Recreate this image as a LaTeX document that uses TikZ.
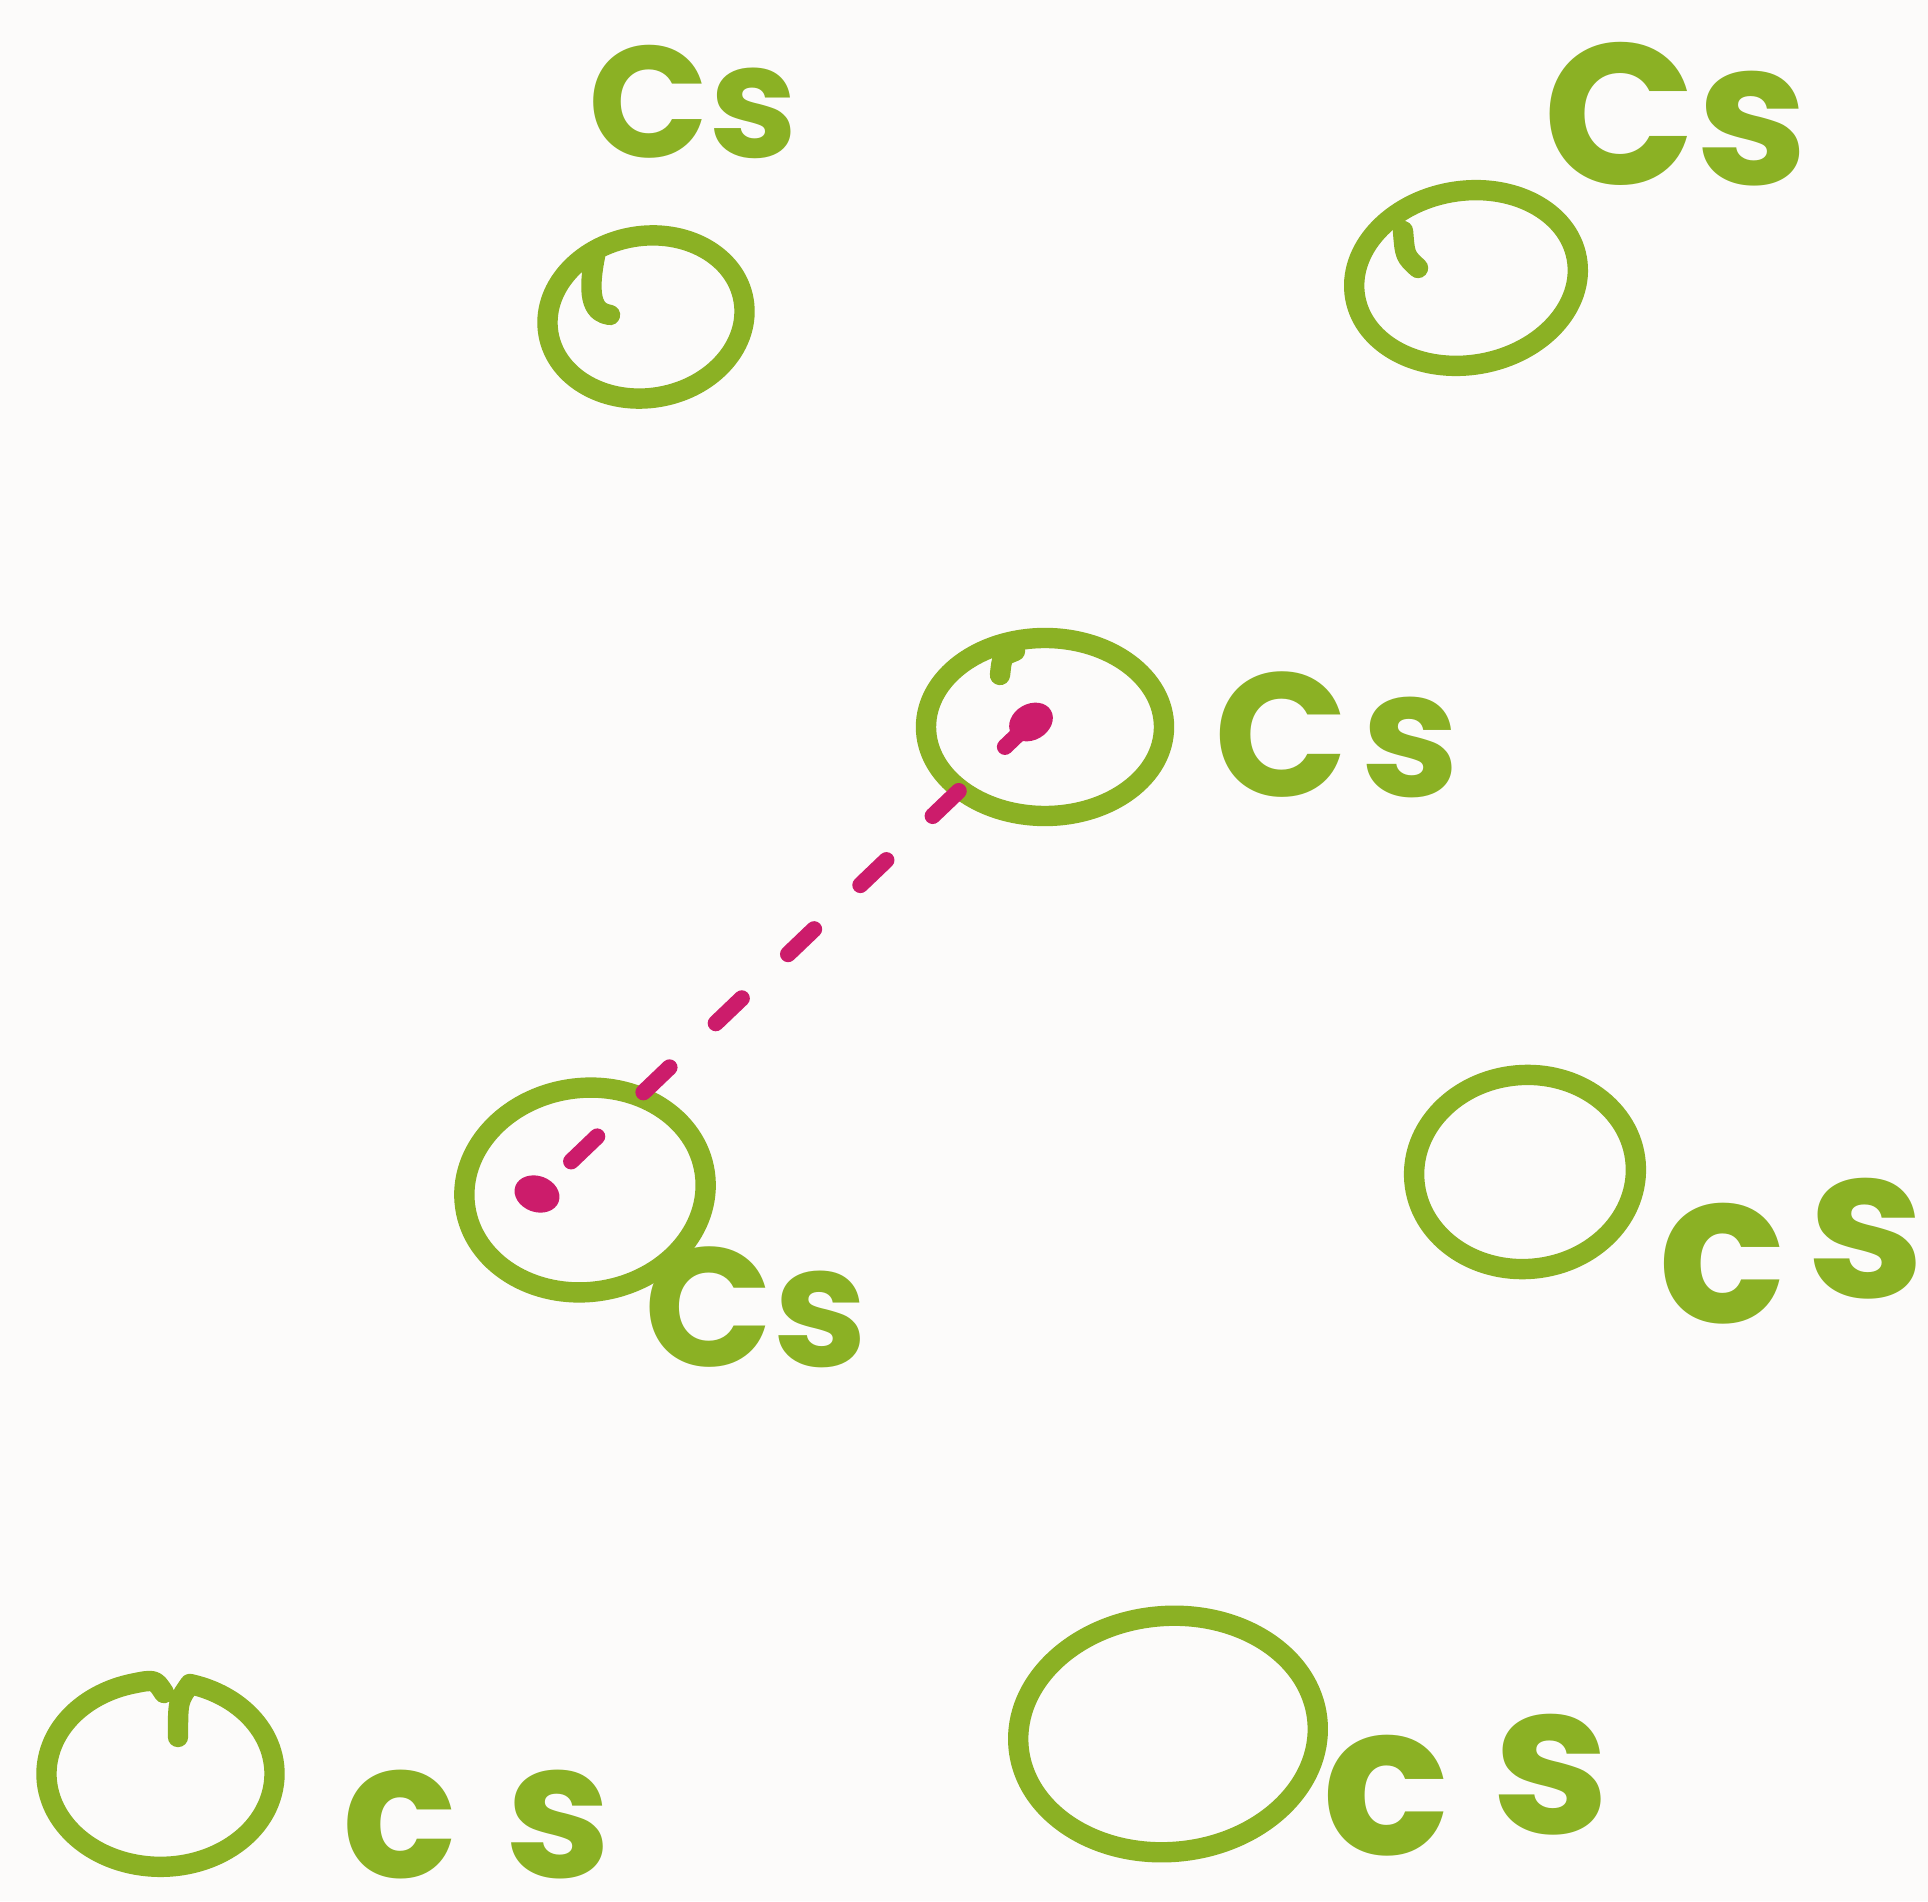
\documentclass[tikz,border=0pt]{standalone}
\usepackage{fontspec}
\setmainfont{Poppins}
\usetikzlibrary{shapes.geometric}
\definecolor{bgc}{HTML}{FCFBFA}
\definecolor{grn}{HTML}{8BB124}
\definecolor{mag}{HTML}{CC1C6B}
\tikzset{
  ring/.style={draw=grn, line width=5.8pt, ellipse, inner sep=0pt},
  gline/.style={draw=grn, line width=5.8pt, line cap=round, line join=round},
  lab/.style={text=grn, inner sep=0pt, font=\bfseries},
  dot/.style={fill=mag, ellipse, inner sep=0pt, minimum width=0.46cm, minimum height=0.36cm},
  link/.style={draw=mag, line width=4.6pt, line cap=round, dash pattern=on 0.36cm off 0.64cm}
}
\begin{document}
\begin{tikzpicture}
\fill[bgc] (0,0) rectangle (19.28,19.01);
\useasboundingbox (0,0) rectangle (19.28,19.01);
% rings
\node[ring, minimum width=1.98cm, minimum height=1.62cm, rotate=10] (r1) at (6.46,15.84) {};
\node[ring, minimum width=2.25cm, minimum height=1.74cm, rotate=10] (r2) at (14.66,16.23) {};
\node[ring, minimum width=2.38cm, minimum height=1.78cm] (r3) at (10.45,11.74) {};
\node[ring, minimum width=2.42cm, minimum height=2.04cm, rotate=8] (r4) at (5.85,7.11) {};
\node[ring, minimum width=2.22cm, minimum height=1.94cm, rotate=5] (r5) at (15.25,7.29) {};
\node[ring, minimum width=3.0cm, minimum height=2.36cm, rotate=5] (r7) at (11.68,1.67) {};
% open ring (bottom left)
\draw[gline] (1.78,1.64) .. controls (1.78,2.0) .. (1.90,2.17)
  arc[start angle=75, end angle=-255, x radius=1.14, y radius=0.93]
  .. controls (1.55,2.22) .. (1.64,2.08);
% stroke starts (hooks)
\draw[gline] (5.95,16.45) .. controls (5.86,16.0) and (5.95,15.88) .. (6.1,15.86);
\draw[gline] (14.03,16.70) .. controls (14.05,16.45) .. (14.18,16.33);
\draw[gline] (10.15,12.50) .. controls (10.02,12.45) .. (10.00,12.26);
% labels
\node[lab, font=\bfseries\fontsize{45}{45}\selectfont] (l1) at (6.93,17.99) {Cs};
\node[lab, font=\bfseries\fontsize{57}{57}\selectfont] (l2) at (16.76,17.87) {Cs};
\node[lab, font=\bfseries\fontsize{50}{50}\selectfont] (l3) at (13.37,11.66) {C\hspace{0.08em}s};
\node[lab, font=\bfseries\fontsize{48}{48}\selectfont] (l4) at (7.56,5.94) {Cs};
\node[lab, font=\bfseries\fontsize{60}{60}\selectfont] (l5) at (17.92,6.5) {c\hspace{0.1em}\raisebox{0.12em}{s}};
\node[lab, font=\bfseries\fontsize{54}{54}\selectfont] (l6) at (4.77,0.76) {c\hspace{0.25em}s};
\node[lab, font=\bfseries\fontsize{60}{60}\selectfont] (l7) at (14.66,1.16) {c\hspace{0.2em}\raisebox{0.1em}{s}};
% magenta link
\node[dot, rotate=30] (d1) at (10.31,11.79) {};
\node[dot, rotate=-20] (d2) at (5.37,7.07) {};
\draw[link] (d1.center) -- (d2.center);
\end{tikzpicture}
\end{document}
